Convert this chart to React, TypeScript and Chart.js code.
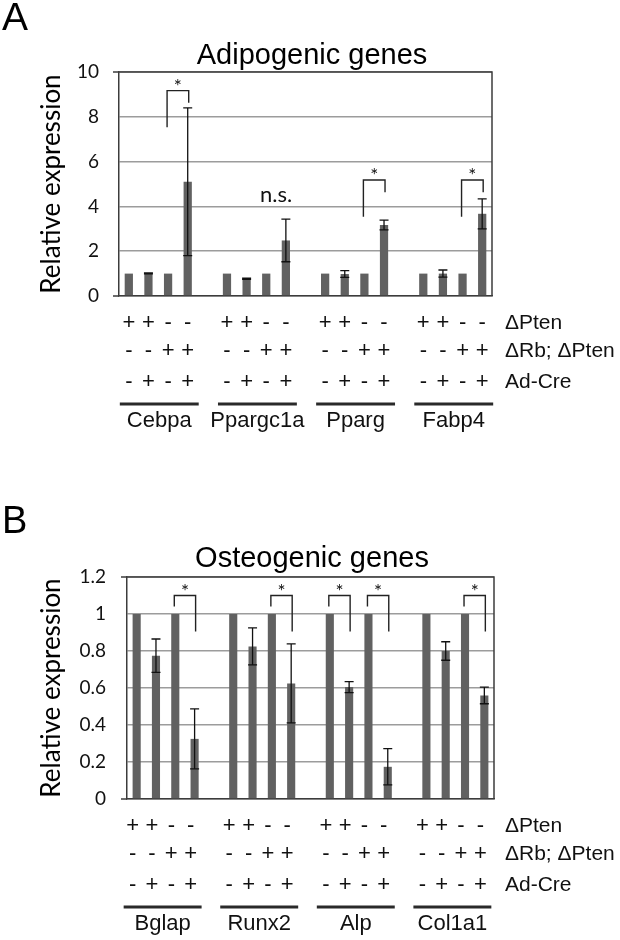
import React, { useEffect, useRef } from 'react';
import { Chart, registerables } from 'chart.js';

Chart.register(...registerables);

// ---------- Panel A data: adipogenic genes ----------
const adipoGenes = ['Cebpa', 'Ppargc1a', 'Pparg', 'Fabp4'];
const adipoMeans = [1, 1.01, 1, 5.1, 1, 0.77, 1, 2.48, 1, 0.98, 1, 3.17, 1, 1.0, 1, 3.67];
const adipoErrors = [0, 0.02, 0, 3.3, 0, 0.03, 0, 0.95, 0, 0.15, 0, 0.22, 0, 0.16, 0, 0.67];
const adipoTicks = ['0', '2', '4', '6', '8', '10'];

// ---------- Panel B data: osteogenic genes ----------
const osteoGenes = ['Bglap', 'Runx2', 'Alp', 'Col1a1'];
const osteoMeans = [1, 0.775, 1, 0.325, 1, 0.825, 1, 0.625, 1, 0.605, 1, 0.174, 1, 0.8, 1, 0.56];
const osteoErrors = [0, 0.09, 0, 0.162, 0, 0.1, 0, 0.213, 0, 0.03, 0, 0.098, 0, 0.05, 0, 0.045];
const osteoTicks = ['0', '0.2', '0.4', '0.6', '0.8', '1', '1.2'];

// ---------- condition table ----------
const ptenRow = ['+', '+', '-', '-'];
const rbPtenRow = ['-', '-', '+', '+'];
const adCreRow = ['-', '+', '-', '+'];
const rowLabels = ['\u0394Pten', '\u0394Rb; \u0394Pten', 'Ad-Cre'];

// ---------- significance annotations (bracket levels in data units) ----------
const adipoSig = [
  { group: 0, from: 2, to: 3, top: 9.17, leftEnd: 7.53, rightEnd: 8.63, label: '*' },
  { group: 2, from: 2, to: 3, top: 5.18, leftEnd: 3.54, rightEnd: 4.63, label: '*' },
  { group: 3, from: 2, to: 3, top: 5.18, leftEnd: 3.54, rightEnd: 4.63, label: '*' },
];
const adipoNotes = [{ group: 1, from: 2, to: 3, y: 4.5, label: 'n.s.' }];

const osteoSig = [
  { group: 0, from: 2, to: 3, top: 1.1, leftEnd: 1.04, rightEnd: 0.905, label: '*' },
  { group: 1, from: 2, to: 3, top: 1.1, leftEnd: 1.04, rightEnd: 0.905, label: '*' },
  { group: 2, from: 0, to: 1, top: 1.1, leftEnd: 1.04, rightEnd: 0.905, label: '*' },
  { group: 2, from: 2, to: 3, top: 1.1, leftEnd: 1.04, rightEnd: 0.905, label: '*' },
  { group: 3, from: 2, to: 3, top: 1.1, leftEnd: 1.04, rightEnd: 0.905, label: '*' },
];
const osteoNotes: { group: number; from: number; to: number; y: number; label: string }[] = [];

// ---------- styles ----------
const BAR = '#616161';
const GRID = '#9c9c9c';
const AXIS = '#3c3c3c';
const INK = '#111111';
const SANS = '"Liberation Sans", Arial, sans-serif';
const CAL = 'Lato, "Open Sans", sans-serif';

type Spec = {
  letter: string;
  title: string;
  genes: string[];
  means: number[];
  errors: number[];
  yMax: number;
  yStep: number;
  tickLabels: string[];
  sig: { group: number; from: number; to: number; top: number; leftEnd: number; rightEnd: number; label: string }[];
  notes: { group: number; from: number; to: number; y: number; label: string }[];
  layout: {
    top: number; bottom: number; right: number; axisWidth: number; tickPad: number; titlePad: number;
    letterSize: number; letterBase: number; titleBase: number; tableShift: number;
  };
};

const specA: Spec = {
  letter: 'A', title: 'Adipogenic genes', genes: adipoGenes, means: adipoMeans, errors: adipoErrors,
  yMax: 10, yStep: 2, tickLabels: adipoTicks, sig: adipoSig, notes: adipoNotes,
  layout: { top: 72, bottom: 174, right: 128, axisWidth: 119, tickPad: 20, titlePad: 36,
    letterSize: 39, letterBase: 30, titleBase: 64, tableShift: 0 },
};
const specB: Spec = {
  letter: 'B', title: 'Osteogenic genes', genes: osteoGenes, means: osteoMeans, errors: osteoErrors,
  yMax: 1.2, yStep: 0.2, tickLabels: osteoTicks, sig: osteoSig, notes: osteoNotes,
  layout: { top: 107, bottom: 141, right: 126, axisWidth: 127, tickPad: 21, titlePad: 36,
    letterSize: 38, letterBase: 63, titleBase: 97, tableShift: -4 },
};

const ROW_OFFSETS = [27, 55, 86];

function Panel({ spec }: { spec: Spec }) {
  const ref = useRef<HTMLCanvasElement>(null);
  useEffect(() => {
    const L = spec.layout;
    const nSlots = spec.genes.length * 5 - 1;
    const labels = Array.from({ length: nSlots }, () => '');
    const data = labels.map((_, i) => (i % 5 === 4 ? null : spec.means[Math.floor(i / 5) * 4 + (i % 5)]));
    const slot = (g: number, b: number) => g * 5 + b;

    const overlay = {
      id: 'overlay',
      afterDatasetsDraw(chart: any) {
        const ctx = chart.ctx as CanvasRenderingContext2D;
        const xs = chart.scales.x;
        const ys = chart.scales.y;
        const area = chart.chartArea;
        ctx.save();
        // frame: top and right border + small left extensions
        ctx.strokeStyle = AXIS;
        ctx.lineWidth = 1.5;
        ctx.beginPath();
        ctx.moveTo(area.left - 6, area.top);
        ctx.lineTo(area.right, area.top);
        ctx.lineTo(area.right, area.bottom);
        ctx.moveTo(area.left - 6, area.bottom);
        ctx.lineTo(area.left, area.bottom);
        ctx.stroke();

        // error bars
        ctx.strokeStyle = INK;
        ctx.lineWidth = 1.3;
        spec.means.forEach((m, i) => {
          const e = spec.errors[i];
          if (!e) return;
          const g = Math.floor(i / 4);
          const b = i % 4;
          const x = xs.getPixelForValue(slot(g, b));
          const yT = ys.getPixelForValue(m + e);
          const yB = ys.getPixelForValue(Math.max(0, m - e));
          ctx.beginPath();
          ctx.moveTo(x, yT);
          ctx.lineTo(x, yB);
          ctx.moveTo(x - 4.5, yT);
          ctx.lineTo(x + 4.5, yT);
          ctx.moveTo(x - 4.5, yB);
          ctx.lineTo(x + 4.5, yB);
          ctx.stroke();
        });

        // significance brackets
        ctx.strokeStyle = '#222';
        ctx.lineWidth = 1.4;
        ctx.fillStyle = INK;
        spec.sig.forEach((s) => {
          const x1 = xs.getPixelForValue(slot(s.group, s.from)) - 1;
          const x2 = xs.getPixelForValue(slot(s.group, s.to)) + 1;
          const yTop = ys.getPixelForValue(s.top);
          ctx.beginPath();
          ctx.moveTo(x1, ys.getPixelForValue(s.leftEnd));
          ctx.lineTo(x1, yTop);
          ctx.lineTo(x2, yTop);
          ctx.lineTo(x2, ys.getPixelForValue(s.rightEnd));
          ctx.stroke();
          ctx.font = `19px ${CAL}`;
          ctx.textAlign = 'center';
          ctx.textBaseline = 'alphabetic';
          ctx.fillText(s.label, (x1 + x2) / 2, yTop + 2);
        });
        spec.notes.forEach((n) => {
          const x1 = xs.getPixelForValue(slot(n.group, n.from));
          const x2 = xs.getPixelForValue(slot(n.group, n.to));
          ctx.font = `22px ${CAL}`;
          ctx.textAlign = 'center';
          ctx.textBaseline = 'middle';
          ctx.fillText(n.label, (x1 + x2) / 2, ys.getPixelForValue(n.y));
        });
        ctx.restore();
      },
      afterDraw(chart: any) {
        const ctx = chart.ctx as CanvasRenderingContext2D;
        const xs = chart.scales.x;
        const area = chart.chartArea;
        ctx.save();
        ctx.fillStyle = '#000';
        // panel letter
        ctx.font = `${L.letterSize}px ${SANS}`;
        ctx.textAlign = 'left';
        ctx.textBaseline = 'alphabetic';
        ctx.fillText(spec.letter, 2, L.letterBase);
        // title
        ctx.font = `29px ${SANS}`;
        ctx.textAlign = 'center';
        ctx.fillText(spec.title, 312, L.titleBase);

        // condition table
        const rows = [ptenRow, rbPtenRow, adCreRow];
        ctx.fillStyle = INK;
        ctx.font = `21px ${SANS}`;
        ctx.textBaseline = 'middle';
        rows.forEach((row, r) => {
          const y = area.bottom + ROW_OFFSETS[r];
          spec.genes.forEach((_, g) => {
            row.forEach((sym, b) => {
              ctx.textAlign = 'center';
              ctx.font = `22px ${SANS}`;
              ctx.fillText(sym, xs.getPixelForValue(slot(g, b)) + L.tableShift, y);
            });
          });
          ctx.textAlign = 'left';
          ctx.font = `21px ${SANS}`;
          ctx.fillText(rowLabels[r], 505, y);
        });
        // underlines + gene names
        ctx.font = `22px ${SANS}`;
        spec.genes.forEach((gene, g) => {
          const x0 = xs.getPixelForValue(slot(g, 0)) + L.tableShift;
          const x3 = xs.getPixelForValue(slot(g, 3)) + L.tableShift;
          ctx.fillStyle = '#2a2a2a';
          ctx.fillRect(x0 - 9, area.bottom + 106.5, x3 - x0 + 20, 3);
          ctx.fillStyle = INK;
          ctx.textAlign = 'center';
          ctx.fillText(gene, (x0 + x3) / 2 + 1, area.bottom + 125);
        });
        ctx.restore();
      },
    };

    const chart = new Chart(ref.current as HTMLCanvasElement, {
      type: 'bar',
      data: {
        labels,
        datasets: [
          {
            data: data as any,
            backgroundColor: BAR,
            borderWidth: 0,
            barPercentage: 0.42,
            categoryPercentage: 1,
          },
        ],
      },
      options: {
        animation: false,
        responsive: false,
        layout: { padding: { top: L.top, bottom: L.bottom, left: 0, right: L.right } },
        plugins: { legend: { display: false }, tooltip: { enabled: false }, title: { display: false } },
        scales: {
          x: {
            grid: { display: false, drawTicks: false },
            ticks: { display: false },
            border: { display: true, color: AXIS, width: 1.5 },
            afterFit: (s: any) => {
              s.height = 0;
            },
          },
          y: {
            min: 0,
            max: spec.yMax,
            ticks: {
              stepSize: spec.yStep,
              padding: L.tickPad,
              color: '#111',
              font: { family: CAL, size: 19 },
              callback: (_v: any, i: number) => spec.tickLabels[i],
            },
            grid: { color: GRID, lineWidth: 1.6, drawTicks: false },
            border: { display: true, color: AXIS, width: 1.5 },
            title: {
              display: true,
              text: 'Relative expression',
              color: '#000',
              font: { family: CAL, size: 26 },
              padding: { top: L.titlePad, bottom: 0 },
            },
            afterFit: (s: any) => {
              s.width = L.axisWidth;
            },
          },
        },
      },
      plugins: [overlay],
    });
    return () => chart.destroy();
  }, [spec]);
  return <canvas ref={ref} width={620} height={470} style={{ display: 'block', width: 620, height: 470 }} />;
}

export default function App() {
  return (
    <div style={{ position: 'absolute', left: 0, top: 0, width: 620, height: 940, background: '#fff' }}>
      <Panel spec={specA} />
      <Panel spec={specB} />
    </div>
  );
}
